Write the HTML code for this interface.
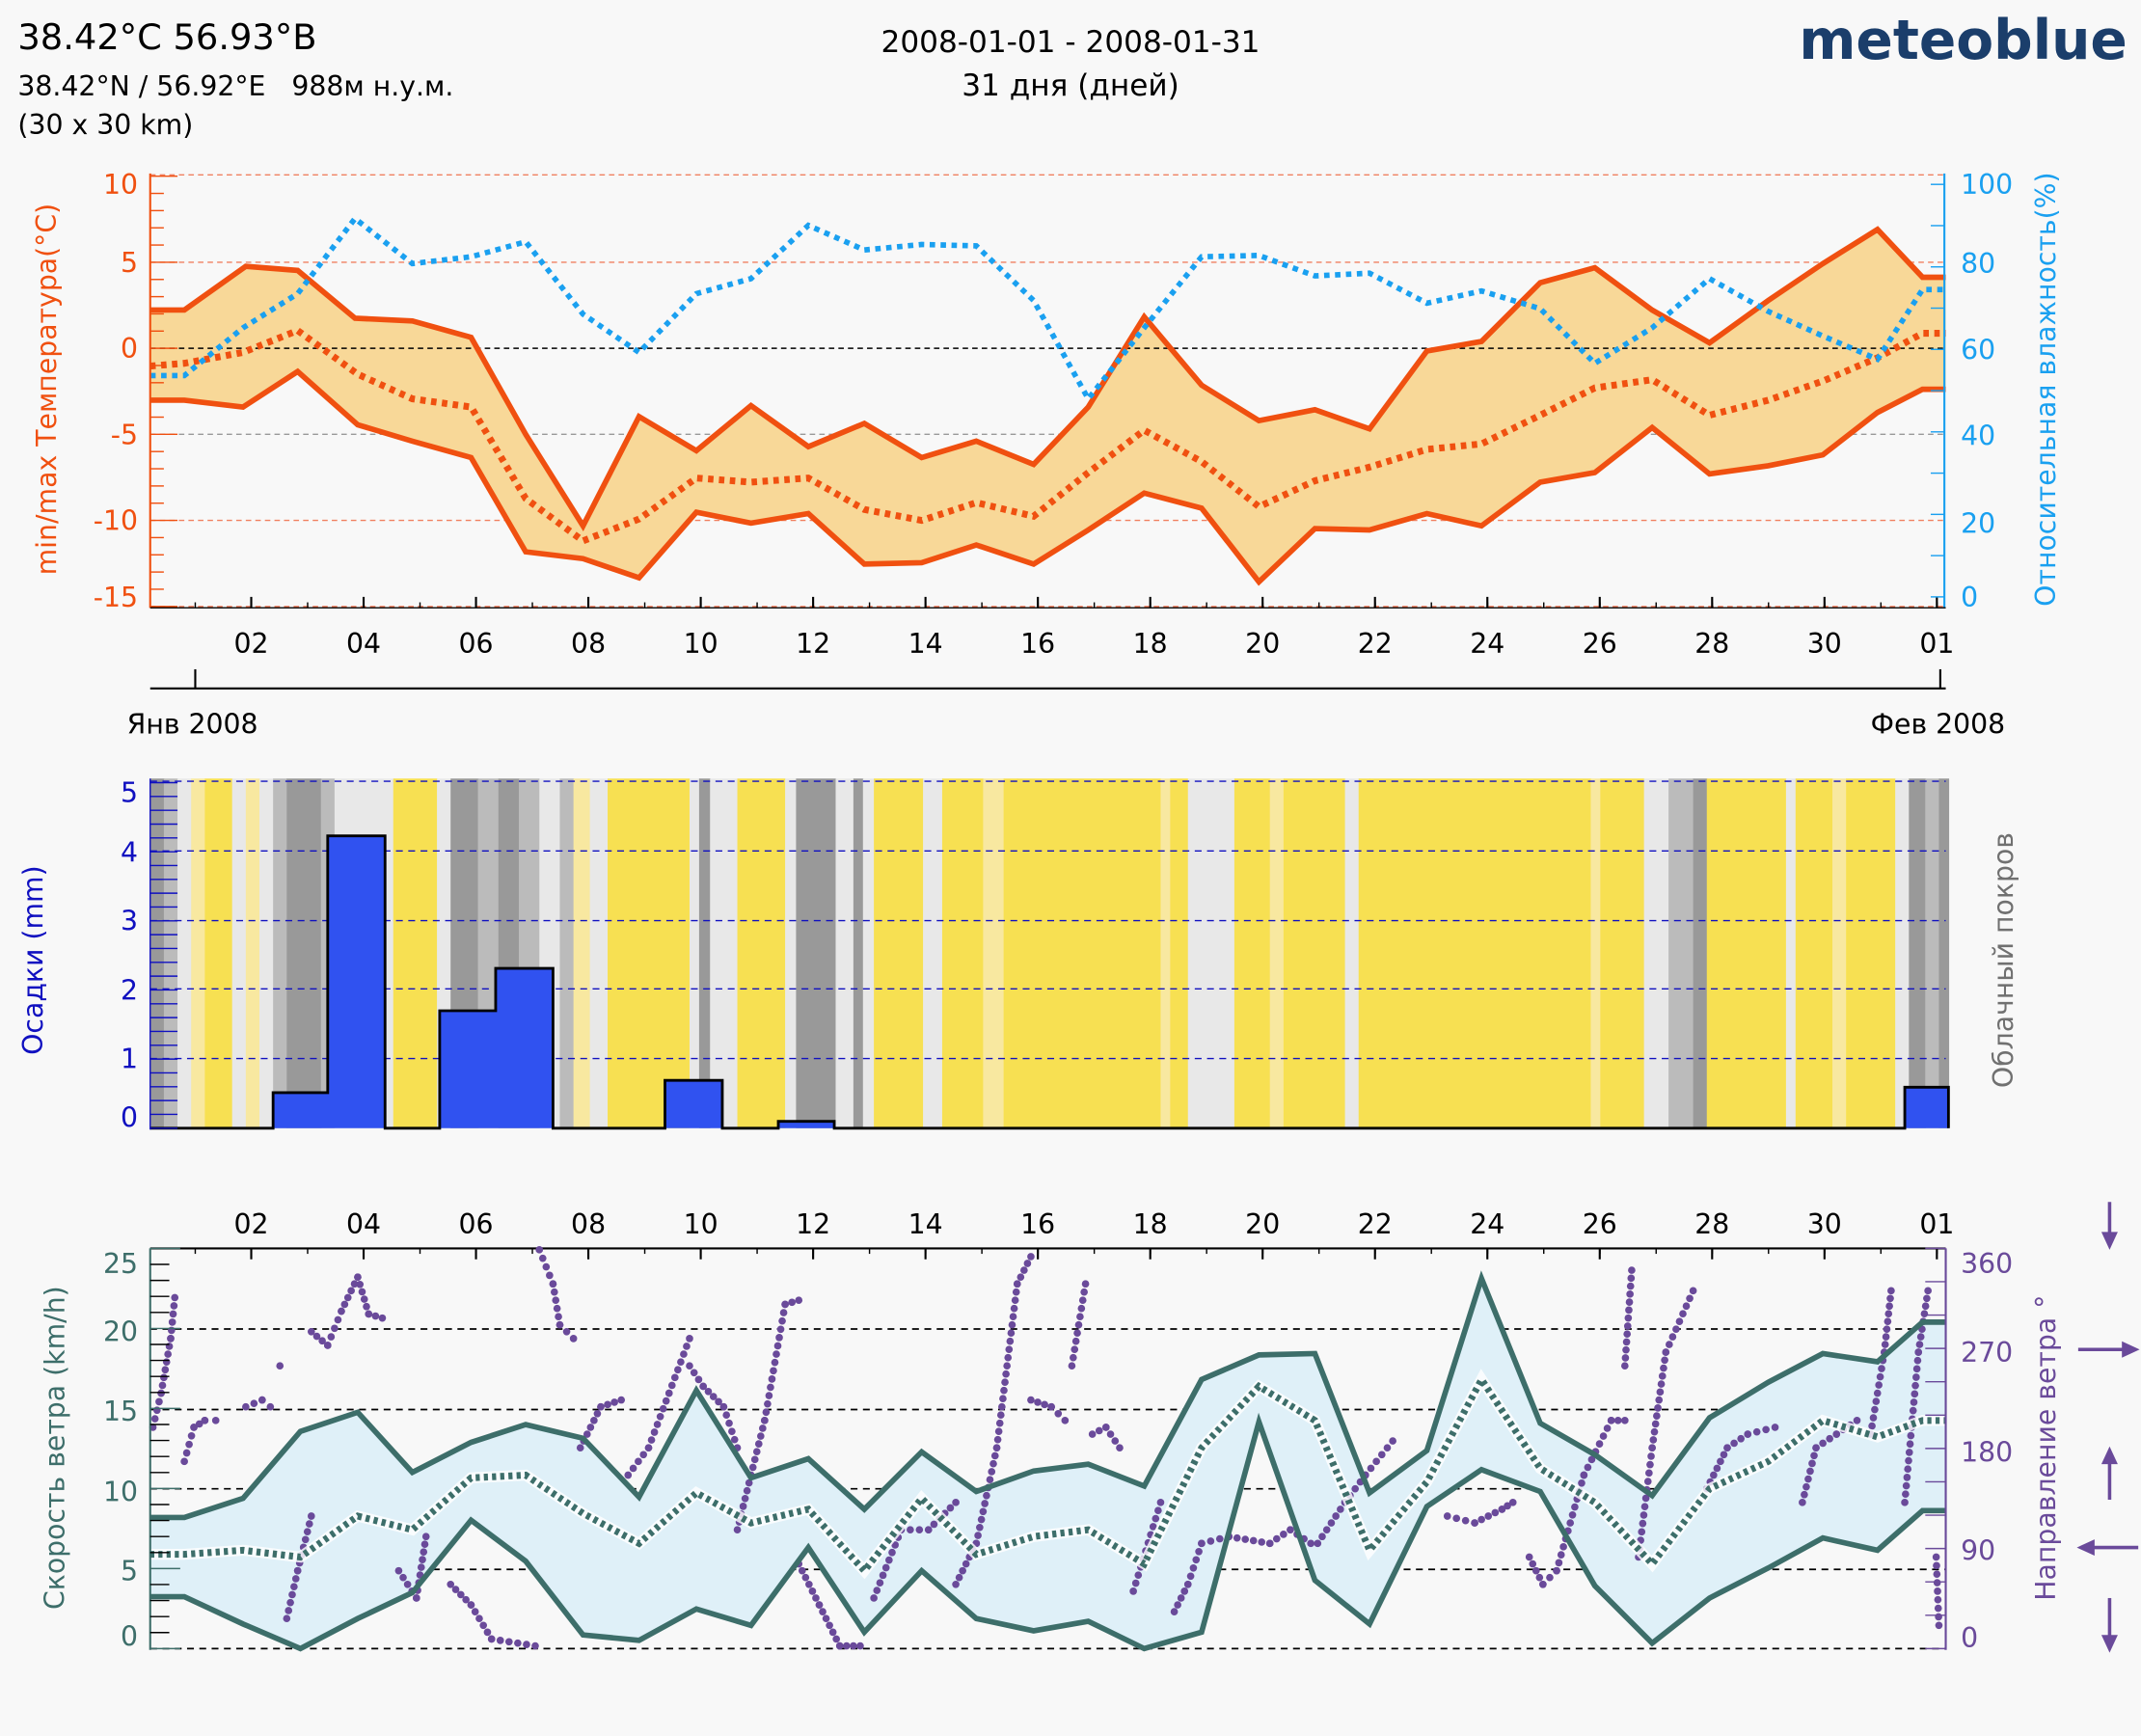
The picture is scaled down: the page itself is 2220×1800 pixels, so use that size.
<!DOCTYPE html>
<html><head><meta charset="utf-8"><style>
html,body{margin:0;padding:0;background:#f8f8f8;}
svg{display:block;}
text{font-family:"DejaVu Sans","Liberation Sans",sans-serif;}
</style></head><body>
<svg id="s" width="2220" height="1800" viewBox="0 0 1568 1271" preserveAspectRatio="none" xmlns="http://www.w3.org/2000/svg">
<rect width="1568" height="1271" fill="#f8f8f8"/>
<text x="13" y="36" font-size="26" fill="#000">38.42°C 56.93°B</text>
<text x="13" y="70" font-size="20" fill="#000" xml:space="preserve">38.42°N / 56.92°E   988м н.у.м.</text>
<text x="13" y="98" font-size="20" fill="#000">(30 x 30 km)</text>
<text x="784" y="38" font-size="22" text-anchor="middle">2008-01-01 - 2008-01-31</text>
<text x="784" y="70" font-size="22" text-anchor="middle">31 дня (дней)</text>
<text x="1558" y="43" font-size="40" font-weight="bold" fill="#1b3e6b" text-anchor="end" font-family="Liberation Sans, sans-serif">meteoblue</text>

<g>
<line x1="110" y1="128" x2="1425" y2="128" stroke="#f08060" stroke-width="1" stroke-dasharray="4,3"/>
<line x1="110" y1="192" x2="1425" y2="192" stroke="#f08060" stroke-dasharray="4,3"/>
<line x1="110" y1="318" x2="1425" y2="318" stroke="#999" stroke-dasharray="4,3"/>
<line x1="110" y1="381" x2="1425" y2="381" stroke="#f08060" stroke-dasharray="4,3"/>
<line x1="110" y1="444" x2="1425" y2="444" stroke="#f08060" stroke-dasharray="4,3"/>
<polygon fill="#f8d898" points="110,227 135,227 180,195 218,198 260,233 302,235 345,247 385,318 427,385 468,305 510,330 550,297 592,327 633,310 675,335 715,323 757,340 797,298 838,232 880,282 922,308 963,300 1003,314 1045,257 1085,250 1128,207 1168,196 1210,227 1252,251 1295,220 1335,193 1375,168 1408,203 1425,203 1425,285 1408,285 1375,302 1335,333 1295,341 1252,347 1210,313 1168,346 1128,353 1085,385 1045,376 1003,388 963,387 922,426 880,372 838,361 797,388 757,413 715,399 675,412 633,413 592,376 550,383 510,375 468,423 427,409 385,404 345,335 302,323 262,311 218,272 178,298 135,293 110,293"/>
<line x1="110" y1="255" x2="1425" y2="255" stroke="#000" stroke-dasharray="4,3"/>
<polyline fill="none" stroke="#f05010" stroke-width="4" points="110,227 135,227 180,195 218,198 260,233 302,235 345,247 385,318 427,385 468,305 510,330 550,297 592,327 633,310 675,335 715,323 757,340 797,298 838,232 880,282 922,308 963,300 1003,314 1045,257 1085,250 1128,207 1168,196 1210,227 1252,251 1295,220 1335,193 1375,168 1408,203 1425,203"/>
<polyline fill="none" stroke="#f05010" stroke-width="4" points="110,293 135,293 178,298 218,272 262,311 302,323 345,335 385,404 427,409 468,423 510,375 550,383 592,376 633,413 675,412 715,399 757,413 797,388 838,361 880,372 922,426 963,387 1003,388 1045,376 1085,385 1128,353 1168,346 1210,313 1252,347 1295,341 1335,333 1375,302 1408,285 1425,285"/>
<polyline fill="none" stroke="#f05010" stroke-width="5" stroke-dasharray="4,4" points="110,268 135,266 178,258 218,242 262,274 302,292 345,298 385,365 427,396 468,380 510,350 550,353 592,350 633,373 675,381 715,368 757,378 797,346 838,315 880,338 922,371 963,352 1003,342 1045,329 1085,325 1128,304 1168,284 1210,278 1252,304 1295,293 1335,279 1375,262 1408,244 1425,244"/>
<polyline fill="none" stroke="#1aa0f0" stroke-width="4" stroke-dasharray="4,4" points="110,275 135,275 178,240 218,215 260,160 302,193 345,188 385,177 427,230 468,258 510,215 550,204 592,165 633,183 675,179 715,180 757,220 797,292 838,240 880,188 922,187 963,202 1003,200 1045,222 1085,213 1128,226 1168,266 1210,240 1252,204 1295,228 1335,246 1375,263 1408,212 1425,212"/>
<line x1="110" y1="127" x2="110" y2="445" stroke="#f05010" stroke-width="1.5"/>
<line x1="1424" y1="127" x2="1424" y2="445" stroke="#1aa0f0" stroke-width="1.5"/>
<line x1="110" y1="445" x2="1425" y2="445" stroke="#000" stroke-width="1"/>
<g id="tempticks"></g>
<g font-size="20" fill="#f05010" text-anchor="end">
<text x="101" y="142">10</text><text x="101" y="199">5</text><text x="101" y="262">0</text><text x="101" y="325">-5</text><text x="101" y="388">-10</text><text x="101" y="444">-15</text>
</g>
<g font-size="20" fill="#1aa0f0">
<text x="1436" y="142">100</text><text x="1436" y="200">80</text><text x="1436" y="263">60</text><text x="1436" y="326">40</text><text x="1436" y="390">20</text><text x="1436" y="444">0</text>
</g>
<text transform="translate(41,285) rotate(-90)" font-size="20" fill="#f05010" text-anchor="middle">min/max Температура(°C)</text>
<text transform="translate(1505,285) rotate(-90)" font-size="20" fill="#1aa0f0" text-anchor="middle">Относительная влажность(%)</text>
<g id="xlab1" font-size="20" fill="#000" text-anchor="middle"></g>
<line x1="110" y1="504" x2="1425" y2="504" stroke="#000" stroke-width="1.5"/>
<line x1="143" y1="490" x2="143" y2="504" stroke="#000" stroke-width="1.5"/>
<line x1="1421" y1="490" x2="1421" y2="504" stroke="#000" stroke-width="1.5"/>
<text x="93" y="537" font-size="20">Янв 2008</text>
<text x="1370" y="537" font-size="20">Фев 2008</text>
</g>

<g id="clouds"></g>
<g stroke="#1010c0" stroke-dasharray="5,4" stroke-width="1">
<line x1="110" y1="572" x2="1425" y2="572"/><line x1="110" y1="623" x2="1425" y2="623"/><line x1="110" y1="674" x2="1425" y2="674"/><line x1="110" y1="724" x2="1425" y2="724"/><line x1="110" y1="775" x2="1425" y2="775"/>
</g>
<path fill="#3052f0" stroke="#000" stroke-width="2" d="M110,826 H200 V800 H240 V612 H282 V826 H322 V740 H363 V709 H405 V826 H487 V791 H529 V826 H570 V821 H611 V826 H1395 V796 H1427 V826"/>
<line x1="110" y1="570" x2="110" y2="827" stroke="#1010c0" stroke-width="1"/>
<g id="pticks"></g>
<g font-size="20" fill="#1010c0" text-anchor="end">
<text x="101" y="587">5</text><text x="101" y="631">4</text><text x="101" y="681">3</text><text x="101" y="732">2</text><text x="101" y="782">1</text><text x="101" y="825">0</text>
</g>
<text transform="translate(31,703) rotate(-90)" font-size="20" fill="#1010c0" text-anchor="middle">Осадки (mm)</text>
<text transform="translate(1474,703) rotate(-90)" font-size="20" fill="#707070" text-anchor="middle">Облачный покров</text>

<g id="xlab2" font-size="20" fill="#000" text-anchor="middle"></g>
<line x1="110" y1="914" x2="1425" y2="914" stroke="#000" stroke-width="1.5"/>
<g stroke="#000" stroke-dasharray="5,4" stroke-width="1.2">
<line x1="110" y1="973" x2="1425" y2="973"/><line x1="110" y1="1032" x2="1425" y2="1032"/><line x1="110" y1="1090" x2="1425" y2="1090"/><line x1="110" y1="1149" x2="1425" y2="1149"/><line x1="110" y1="1207" x2="1425" y2="1207"/>
</g>
<polygon fill="#dff0f8" points="110,1111 135,1111 178,1097 220,1048 262,1034 302,1078 345,1056 385,1043 427,1053 468,1096 510,1018 550,1082 592,1068 633,1105 675,1063 715,1092 757,1077 797,1072 838,1088 880,1010 922,992 963,991 1003,1093 1045,1062 1085,936 1128,1042 1168,1065 1210,1095 1252,1038 1295,1012 1335,991 1375,997 1408,968 1425,968 1425,1106 1408,1106 1375,1135 1335,1126 1295,1148 1252,1170 1210,1203 1168,1161 1128,1092 1085,1076 1045,1103 1003,1189 963,1157 922,1041 880,1195 838,1207 797,1187 757,1194 715,1185 675,1150 633,1195 592,1133 550,1190 510,1178 468,1201 427,1197 385,1143 345,1113 302,1166 262,1185 220,1207 178,1189 135,1169 110,1169"/>
<g id="dots"></g>
<polyline fill="none" stroke="#fff" stroke-width="8" opacity="0.8" points="110,1138 135,1138 178,1135 220,1140 262,1110 302,1120 345,1082 385,1080 427,1108 468,1130 510,1093 550,1115 592,1105 633,1150 675,1097 715,1138 757,1125 797,1120 838,1145 880,1060 922,1015 963,1040 1003,1135 1045,1085 1085,1010 1128,1075 1168,1100 1210,1145 1252,1090 1295,1070 1335,1040 1375,1052 1408,1040 1425,1040"/>
<polyline fill="none" stroke="#3d6e6a" stroke-width="5" stroke-dasharray="3,3" points="110,1138 135,1138 178,1135 220,1140 262,1110 302,1120 345,1082 385,1080 427,1108 468,1130 510,1093 550,1115 592,1105 633,1150 675,1097 715,1138 757,1125 797,1120 838,1145 880,1060 922,1015 963,1040 1003,1135 1045,1085 1085,1010 1128,1075 1168,1100 1210,1145 1252,1090 1295,1070 1335,1040 1375,1052 1408,1040 1425,1040"/>
<polyline fill="none" stroke="#3d6e6a" stroke-width="4" points="110,1111 135,1111 178,1097 220,1048 262,1034 302,1078 345,1056 385,1043 427,1053 468,1096 510,1018 550,1082 592,1068 633,1105 675,1063 715,1092 757,1077 797,1072 838,1088 880,1010 922,992 963,991 1003,1093 1045,1062 1085,936 1128,1042 1168,1065 1210,1095 1252,1038 1295,1012 1335,991 1375,997 1408,968 1425,968"/>
<polyline fill="none" stroke="#3d6e6a" stroke-width="4" points="110,1169 135,1169 178,1189 220,1207 262,1185 302,1166 345,1113 385,1143 427,1197 468,1201 510,1178 550,1190 592,1133 633,1195 675,1150 715,1185 757,1194 797,1187 838,1207 880,1195 922,1041 963,1157 1003,1189 1045,1103 1085,1076 1128,1092 1168,1161 1210,1203 1252,1170 1295,1148 1335,1126 1375,1135 1408,1106 1425,1106"/>
<line x1="110" y1="914" x2="110" y2="1208" stroke="#3d6e6a" stroke-width="1.5"/>
<line x1="1425" y1="914" x2="1425" y2="1208" stroke="#6a4a9a" stroke-width="1.5"/>
<g id="wticks"></g>
<g font-size="20" fill="#3d6e6a" text-anchor="end">
<text x="101" y="932">25</text><text x="101" y="982">20</text><text x="101" y="1040">15</text><text x="101" y="1099">10</text><text x="101" y="1157">5</text><text x="101" y="1205">0</text>
</g>
<g font-size="20" fill="#6a4a9a">
<text x="1436" y="932">360</text><text x="1436" y="997">270</text><text x="1436" y="1070">180</text><text x="1436" y="1142">90</text><text x="1436" y="1206">0</text>
</g>
<text transform="translate(47,1060) rotate(-90)" font-size="20" fill="#3d6e6a" text-anchor="middle">Скорость ветра (km/h)</text>
<text transform="translate(1505,1060) rotate(-90)" font-size="20" fill="#6a4a9a" text-anchor="middle">Направление ветра °</text>
<g stroke="#6a4a9a" stroke-width="2.5" fill="#6a4a9a">
<line x1="1545" y1="880" x2="1545" y2="910"/><polygon points="1539,902 1551,902 1545,915" stroke="none"/>
<line x1="1522" y1="988" x2="1560" y2="988"/><polygon points="1554,982 1554,994 1567,988" stroke="none"/>
<line x1="1545" y1="1065" x2="1545" y2="1098"/><polygon points="1539,1072 1551,1072 1545,1059" stroke="none"/>
<line x1="1528" y1="1133" x2="1566" y2="1133"/><polygon points="1534,1127 1534,1139 1521,1133" stroke="none"/>
<line x1="1545" y1="1170" x2="1545" y2="1203"/><polygon points="1539,1197 1551,1197 1545,1210" stroke="none"/>
</g>
</svg>
<script>
(function(){
var NS="http://www.w3.org/2000/svg";
function el(p,t,a){var e=document.createElementNS(NS,t);for(var k in a)e.setAttribute(k,a[k]);p.appendChild(e);return e;}
var days=["02","04","06","08","10","12","14","16","18","20","22","24","26","28","30","01"];
var x1=document.getElementById("xlab1"),x2=document.getElementById("xlab2");
var tg=document.getElementById("tempticks");
for(var i=0;i<16;i++){var x=184+i*82.3;
 var t=el(x1,"text",{x:x,y:478});t.textContent=days[i];
 var t2=el(x2,"text",{x:x,y:903});t2.textContent=days[i];
 el(tg,"line",{x1:x,y1:437,x2:x,y2:445,stroke:"#000","stroke-width":1.5});
 el(tg,"line",{x1:x,y1:914,x2:x,y2:922,stroke:"#000","stroke-width":1.5});}
for(var i=0;i<32;i++){var x=143+i*41.15;el(tg,"line",{x1:x,y1:441,x2:x,y2:445,stroke:"#000"});el(tg,"line",{x1:x,y1:914,x2:x,y2:918,stroke:"#000"});}
for(var v=-15;v<=10;v++){var y=255-12.6*v;el(tg,"line",{x1:110,y1:y,x2:v%5==0?130:120,y2:y,stroke:"#f05010"});}
for(var h=0;h<=100;h+=10){var y=437-3.02*h;el(tg,"line",{x1:1424,y1:y,x2:1414,y2:y,stroke:"#1aa0f0"});}
var pt=document.getElementById("pticks");
for(var v=0;v<=5.01;v+=0.2){var y=826-50.6*v;el(pt,"line",{x1:110,y1:y,x2:130,y2:y,stroke:"#1010c0"});}
var wt=document.getElementById("wticks");
for(var v=0;v<=25;v++){var y=1207-11.72*v;el(wt,"line",{x1:110,y1:y,x2:v%5==0?132:124,y2:y,stroke:v%5==0?"#3d6e6a":"#000"});}
for(var d=0;d<=360;d+=30){var y=1207-0.814*d;el(wt,"line",{x1:1425,y1:y,x2:1410,y2:y,stroke:"#6a4a9a"});}
var C=document.getElementById("clouds");
var Y="#f7e052",L="#e8e8e8",G="#999",M="#bbb",P="#f8e8a0";
var seg=[[110,120,G],[120,130,M],[130,140,L],[140,150,P],[150,170,Y],[170,180,L],[180,190,P],[190,200,L],[200,210,M],[210,235,G],[235,245,M],[245,262,L],[262,288,L],[288,320,Y],[320,330,L],[330,350,G],[350,365,M],[365,380,G],[380,395,M],[395,410,L],[410,420,M],[420,432,P],[432,445,L],[445,505,Y],[505,512,L],[512,520,G],[520,540,L],[540,575,Y],[575,583,L],[583,612,G],[612,625,L],[625,632,G],[632,640,L],[640,676,Y],[676,690,L],[690,720,Y],[720,735,P],[735,745,Y],[745,850,Y],[850,857,P],[857,870,Y],[870,904,L],[904,930,Y],[930,940,P],[940,985,Y],[985,995,L],[995,1003,Y],[1003,1165,Y],[1165,1172,P],[1172,1204,Y],[1204,1222,L],[1222,1240,M],[1240,1250,G],[1250,1308,Y],[1308,1315,L],[1315,1342,Y],[1342,1352,P],[1352,1388,Y],[1388,1398,L],[1398,1410,G],[1410,1420,M],[1420,1427,G]];
seg.forEach(function(s){el(C,"rect",{x:s[0],y:570,width:s[1]-s[0]+0.5,height:256,fill:s[2]});});
var D=document.getElementById("dots");
var lines=[[[112,1045],[118,1020],[125,980],[128,950]],[[135,1070],[142,1045],[150,1040],[158,1040]],[[180,1030],[192,1025],[198,1030]],[[205,1000]],[[210,1185],[218,1150],[228,1110]],[[228,975],[240,985],[250,960],[262,935]],[[262,935],[270,962],[280,965]],[[292,1150],[305,1170],[312,1125]],[[330,1160],[345,1175],[360,1200],[392,1205]],[[395,915],[405,940],[410,970],[420,980]],[[425,1060],[440,1030],[455,1025]],[[460,1080],[475,1060],[490,1020],[505,980]],[[505,1000],[515,1015],[530,1030],[540,1060]],[[540,1120],[560,1040],[575,955],[585,952]],[[585,1145],[600,1175],[615,1205],[630,1205]],[[640,1170],[660,1120],[680,1120],[700,1100]],[[700,1160],[715,1130],[730,1060],[745,940],[755,920]],[[755,1025],[770,1030],[780,1040]],[[785,1000],[795,940]],[[800,1050],[810,1045],[820,1060]],[[830,1165],[850,1100]],[[860,1180],[870,1160],[880,1130],[900,1125],[930,1130],[945,1120],[960,1130]],[[965,1130],[985,1100],[1000,1080],[1020,1055]],[[1060,1110],[1080,1115],[1100,1105],[1108,1100]],[[1120,1140],[1130,1160],[1140,1150],[1160,1080],[1180,1040],[1190,1040]],[[1190,1000],[1195,930]],[[1200,1140],[1210,1060],[1220,990],[1240,945]],[[1250,1090],[1265,1060],[1280,1050],[1300,1045]],[[1320,1100],[1330,1060],[1345,1050],[1360,1040]],[[1370,1050],[1380,990],[1385,945]],[[1395,1100],[1405,990],[1412,945]],[[1418,1140],[1420,1190]]];
lines.forEach(function(pl){
 if(pl.length==1){el(D,"circle",{cx:pl[0][0],cy:pl[0][1],r:2.7,fill:"#6a4a9a"});return;}
 for(var i=0;i<pl.length-1;i++){var a=pl[i],b=pl[i+1];var len=Math.hypot(b[0]-a[0],b[1]-a[1]);var n=Math.max(1,Math.round(len/6));
  for(var j=0;j<=n;j++){var t=j/n;el(D,"circle",{cx:a[0]+(b[0]-a[0])*t,cy:a[1]+(b[1]-a[1])*t,r:2.7,fill:"#6a4a9a"});}}
});
})();
</script>
</body></html>
